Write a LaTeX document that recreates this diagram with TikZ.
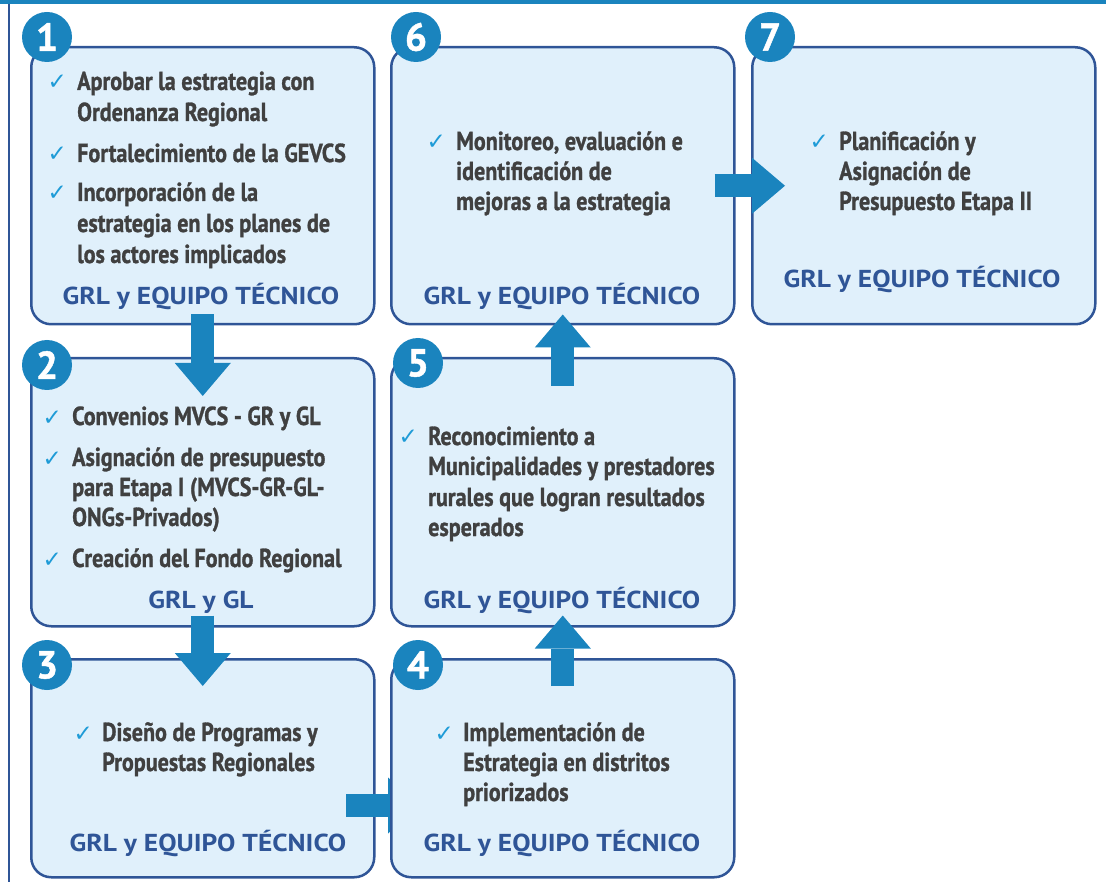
\documentclass[tikz,border=0pt]{standalone}
\usepackage{fontspec}
\setmainfont{PT Sans}
\newfontfamily\bodyfont[FakeStretch=0.85,BoldFeatures={FakeBold=1.1}]{PT Sans}
\newfontfamily\footfont[FakeStretch=1.12]{PT Sans}
\newfontfamily\badgefont[BoldFeatures={FakeBold=1.2}]{PT Sans}
\newfontfamily\symfont{DejaVu Sans}
\usetikzlibrary{arrows.meta,calc}
\definecolor{boxfill}{HTML}{E0F0FB}
\definecolor{boxline}{HTML}{2F5597}
\definecolor{accent}{HTML}{1A84BE}
\definecolor{txt}{HTML}{404040}
\definecolor{chk}{HTML}{1E9BD7}
\tikzset{
  stagebox/.style={draw=boxline, fill=boxfill, line width=2.5pt, rounded corners=20pt,
    anchor=north west, inner sep=0pt, minimum width=343pt},
  badge/.style={circle, fill=accent, minimum size=50pt, inner sep=0pt, text=white,
    font=\badgefont\bfseries\fontsize{39}{39}\selectfont},
  body/.style={anchor=base west, inner sep=0pt, text=txt,
    font=\bodyfont\bfseries\fontsize{26}{30}\selectfont},
  tick/.style={anchor=base east, inner sep=0pt, text=chk,
    font=\symfont\fontsize{23}{23}\selectfont},
  foot/.style={anchor=base, inner sep=0pt, text=boxline,
    font=\footfont\bfseries\fontsize{24.5}{24.5}\selectfont},
  bigarrow/.style={draw=accent, line width=23pt,
    -{Triangle[width=56pt,length=33pt,line width=0pt]}},
}
\begin{document}
\begin{tikzpicture}[x=1pt,y=-1pt]
\useasboundingbox (0,0) rectangle (1106,882);
% frame
\fill[accent] (0,0) rectangle (1106,4);
\draw[boxline, line width=2pt] (9,4) -- (9,882);

% boxes
\node[stagebox, minimum height=277pt] (b1) at (30,46) {};
\node[stagebox, minimum height=277pt] (b6) at (390,46) {};
\node[stagebox, minimum height=277pt] (b7) at (751,46) {};
\node[stagebox, minimum height=268pt] (b2) at (30,357) {};
\node[stagebox, minimum height=268pt] (b5) at (390,357) {};
\node[stagebox, minimum height=218pt] (b3) at (30,658) {};

% arrow 3 -> 4 (head hidden under box 4)
\coordinate (a34s) at (346,805.5);
\coordinate (a34e) at (421,805.5);
\draw[bigarrow] (a34s) -- (a34e);

\node[stagebox, minimum height=218pt] (b4) at (390,658) {};

% arrows
\draw[bigarrow] ([yshift=11pt]b1.south) -- ([yshift=-39pt]b2.north);
\draw[bigarrow] ([yshift=12pt]b2.south) -- ([yshift=-28pt]b3.north);
\draw[bigarrow] ([yshift=-28pt]b4.north) -- ([yshift=12pt]b5.south);
\draw[bigarrow] ([yshift=-29pt]b5.north) -- ([yshift=11pt]b6.south);
\draw[bigarrow] ([xshift=-21pt]b6.east) -- ([xshift=34pt]b7.west);

% badges
\node[badge] (n1) at (47,37) {1};
\node[badge] (n6) at (416,37) {6};
\node[badge] (n7) at (770,37) {7};
\node[badge] (n2) at (47,365) {2};
\node[badge] (n5) at (418,363) {5};
\node[badge] (n3) at (47,665) {3};
\node[badge] (n4) at (418,665) {4};

% box 1 text
\node[tick] (k1a) at (67,90) {✓};
\node[body] (t1a) at (77,90) {Aprobar la estrategia con};
\node[body] (t1b) at (77,121) {Ordenanza Regional};
\node[tick] (k1b) at (67,162) {✓};
\node[body] (t1c) at (77,162) {Fortalecimiento de la GEVCS};
\node[tick] (k1c) at (67,201) {✓};
\node[body] (t1d) at (77,201) {Incorporación de la};
\node[body] (t1e) at (77,232) {estrategia en los planes de};
\node[body] (t1f) at (77,263) {los actores implicados};
\node[foot] (f1) at (201,305) {GRL y EQUIPO TÉCNICO};

% box 6 text
\node[tick] (k6a) at (446,150) {✓};
\node[body] (t6a) at (456,150) {Monitoreo, evaluación e};
\node[body] (t6b) at (456,180) {identificación de};
\node[body] (t6c) at (456,210) {mejoras a la estrategia};
\node[foot] (f6) at (562,305) {GRL y EQUIPO TÉCNICO};

% box 7 text
\node[tick] (k7a) at (829,150) {✓};
\node[body] (t7a) at (839,150) {Planificación y};
\node[body] (t7b) at (839,180) {Asignación de};
\node[body] (t7c) at (839,210) {Presupuesto Etapa II};
\node[foot] (f7) at (922,288) {GRL y EQUIPO TÉCNICO};

% box 2 text
\node[tick] (k2a) at (62,425) {✓};
\node[body] (t2a) at (72,425) {Convenios MVCS - GR y GL};
\node[tick] (k2b) at (62,466) {✓};
\node[body] (t2b) at (72,466) {Asignación de presupuesto};
\node[body] (t2c) at (72,496) {para Etapa I (MVCS-GR-GL-};
\node[body] (t2d) at (72,526) {ONGs-Privados)};
\node[tick] (k2c) at (62,567) {✓};
\node[body] (t2e) at (72,567) {Creación del Fondo Regional};
\node[foot] (f2) at (201,608) {GRL y GL};

% box 5 text
\node[tick] (k5a) at (418,445) {✓};
\node[body] (t5a) at (428,445) {Reconocimiento a};
\node[body] (t5b) at (428,475) {Municipalidades y prestadores};
\node[body] (t5c) at (428,506) {rurales que logran resultados};
\node[body] (t5d) at (428,536) {esperados};
\node[foot] (f5) at (562,608) {GRL y EQUIPO TÉCNICO};

% box 3 text
\node[tick] (k3a) at (93,741) {✓};
\node[body] (t3a) at (102,741) {Diseño de Programas y};
\node[body] (t3b) at (102,771) {Propuestas Regionales};
\node[foot] (f3) at (208,851) {GRL y EQUIPO TÉCNICO};

% box 4 text
\node[tick] (k4a) at (454,741) {✓};
\node[body] (t4a) at (463,741) {Implementación de};
\node[body] (t4b) at (463,771) {Estrategia en distritos};
\node[body] (t4c) at (463,801) {priorizados};
\node[foot] (f4) at (562,851) {GRL y EQUIPO TÉCNICO};
\end{tikzpicture}
\end{document}
